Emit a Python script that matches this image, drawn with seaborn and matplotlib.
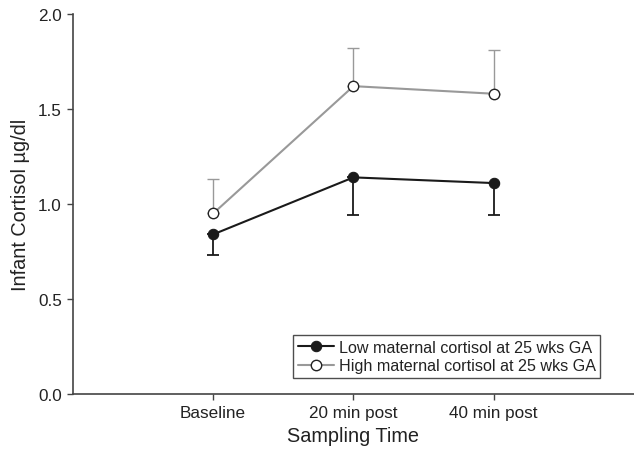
import matplotlib
matplotlib.use("Agg")
import matplotlib.pyplot as plt
import seaborn as sns
import pandas as pd
import numpy as np

categories = ["Baseline", "20 min post", "40 min post"]
low_mean = [0.84, 1.14, 1.11]
low_err = [0.11, 0.20, 0.17]
high_mean = [0.95, 1.62, 1.58]
high_err = [0.18, 0.20, 0.23]
series_names = ["Low maternal cortisol at 25 wks GA", "High maternal cortisol at 25 wks GA"]

sns.set_style("ticks")
plt.rcParams['font.family'] = ['Liberation Sans', 'DejaVu Sans']

df = pd.DataFrame({
    "pos": list(range(len(categories))) * 2,
    "value": low_mean + high_mean,
    "group": [series_names[0]] * 3 + [series_names[1]] * 3,
})

fig = plt.figure(figsize=(6.34, 4.52), dpi=100)
ax = fig.add_axes([0.115, 0.126, 0.885, 0.841])

x = np.arange(len(categories))
low_col = "#1a1a1a"
high_col = "#999999"

# error bars (one-sided)
ax.errorbar(x, low_mean, yerr=[low_err, [0] * 3], fmt="none", ecolor=low_col,
            elinewidth=1.3, capsize=4.5, capthick=1.3, zorder=1)
ax.errorbar(x, high_mean, yerr=[[0] * 3, high_err], fmt="none", ecolor=high_col,
            elinewidth=1.0, capsize=4.5, capthick=1.0, zorder=1)

sns.lineplot(data=df[df.group == series_names[0]], x="pos", y="value", ax=ax,
             color=low_col, marker="o", markersize=7.5, markerfacecolor=low_col,
             markeredgecolor=low_col, linewidth=1.5, label=series_names[0], zorder=3)
sns.lineplot(data=df[df.group == series_names[1]], x="pos", y="value", ax=ax,
             color=high_col, marker="o", markersize=7.5, markerfacecolor="white",
             markeredgecolor="#222222", markeredgewidth=1.0, linewidth=1.5,
             label=series_names[1], zorder=3)

ax.set_xlim(-1, 3)
ax.set_ylim(0, 2.0)
ax.set_xticks(x)
ax.set_xticklabels(categories, fontsize=12.3, color="#222222")
ax.set_yticks([0, 0.5, 1.0, 1.5, 2.0])
ax.set_yticklabels(["0.0", "0.5", "1.0", "1.5", "2.0"], fontsize=12.3, color="#222222")
ax.set_xlabel("Sampling Time", fontsize=14.3, color="#222222", labelpad=4)
ax.set_ylabel("Infant Cortisol µg/dl", fontsize=14.3, color="#222222", labelpad=6)
ax.tick_params(axis="both", length=4, width=1, color="#444444", pad=4)
for side in ["top", "right"]:
    ax.spines[side].set_visible(False)
for side in ["left", "bottom"]:
    ax.spines[side].set_color("#444444")
    ax.spines[side].set_linewidth(1.2)

leg = ax.legend(loc="upper right", bbox_to_anchor=(0.94, 0.155), fontsize=11.6,
                frameon=True, fancybox=False, handlelength=2.2, handletextpad=0.3,
                borderpad=0.3, labelspacing=0.2, borderaxespad=0)
leg.get_frame().set_edgecolor("#222222")
leg.get_frame().set_linewidth(1.0)
for t in leg.get_texts():
    t.set_color("#222222")

fig.savefig("out.png", dpi=100)
